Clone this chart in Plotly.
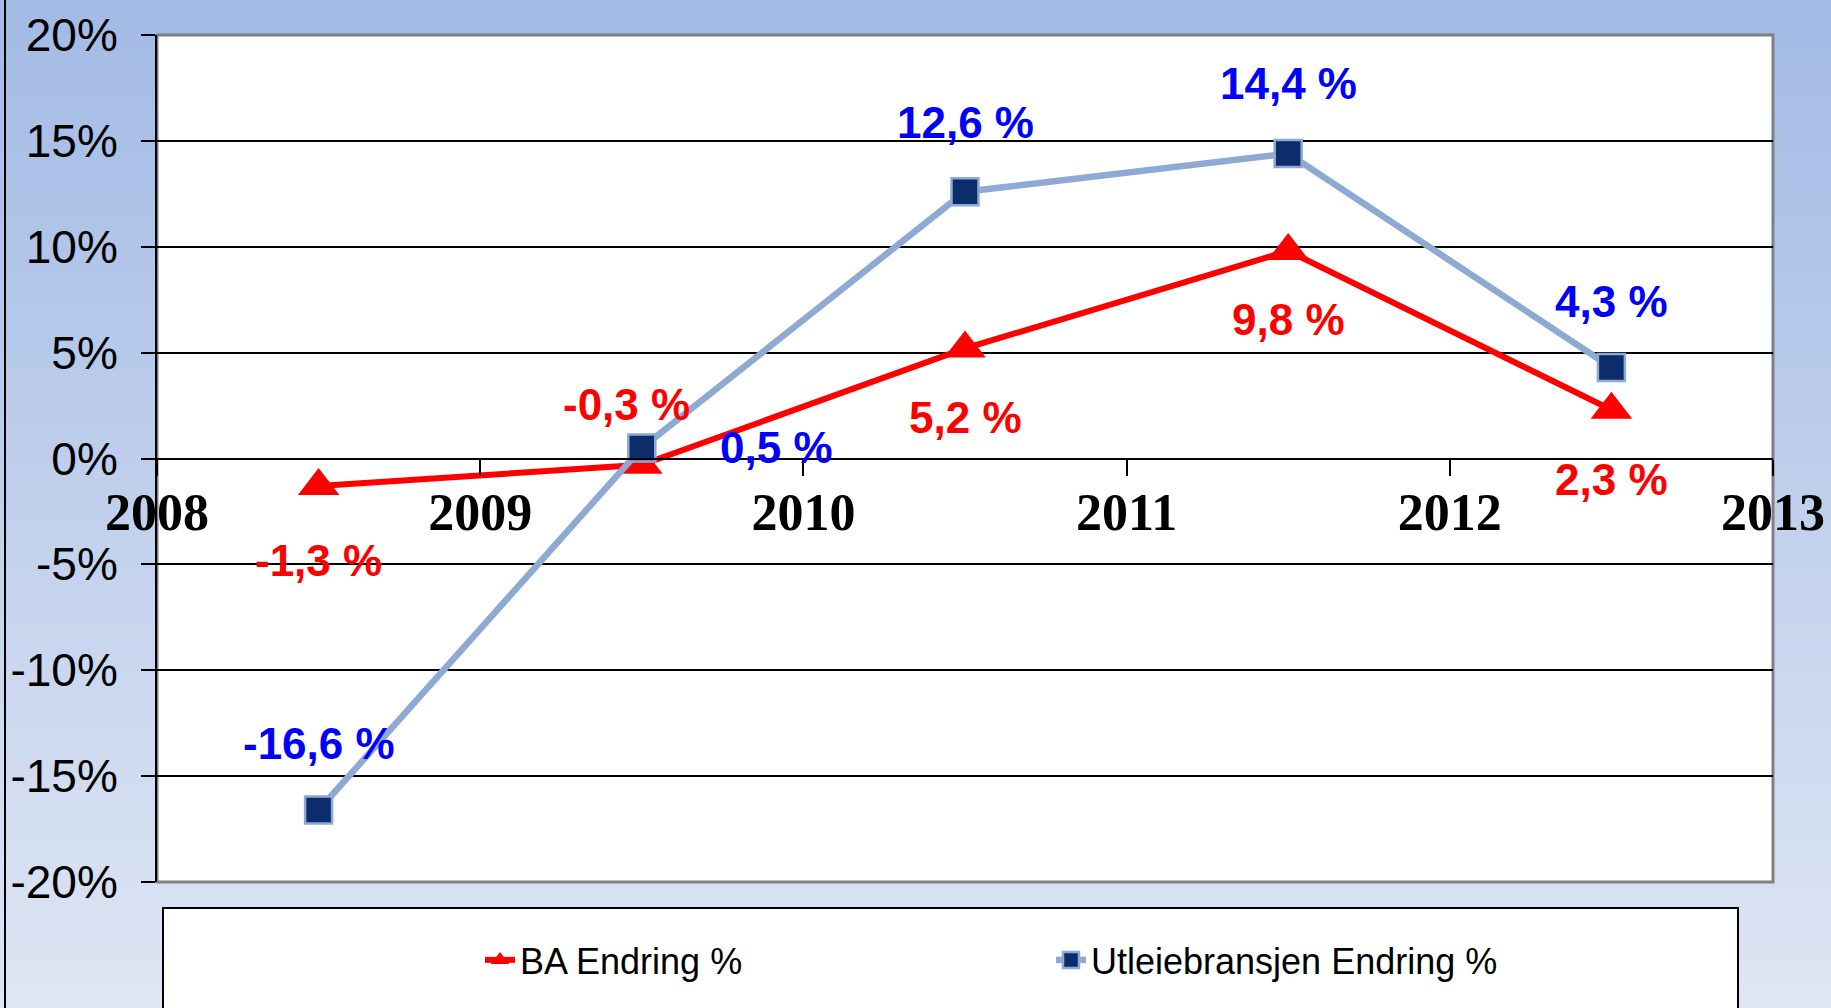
import plotly.graph_objects as go

# ---------------- data ----------------
years = [2008.5, 2009.5, 2010.5, 2011.5, 2012.5]
ba_values = [-1.3, -0.3, 5.2, 9.8, 2.3]
utleie_values = [-16.6, 0.5, 12.6, 14.4, 4.3]
ba_labels = ["-1,3 %", "-0,3 %", "5,2 %", "9,8 %", "2,3 %"]
utleie_labels = ["-16,6 %", "0,5 %", "12,6 %", "14,4 %", "4,3 %"]
series_names = ["BA Endring %", "Utleiebransjen Endring %"]
x_tick_vals = [2008, 2009, 2010, 2011, 2012, 2013]
x_tick_text = ["2008", "2009", "2010", "2011", "2012", "2013"]
y_tick_vals = [-20, -15, -10, -5, 0, 5, 10, 15, 20]
y_tick_text = ["-20%", "-15%", "-10%", "-5%", "0%", "5%", "10%", "15%", "20%"]

# ---------------- styling ----------------
W, H = 1831, 1008
ML, MR, MT, MB = 157, 58, 35, 126
PW, PH = W - ML - MR, H - MT - MB

ba_offsets = [(0, -74), (-15, 60), (0, -69), (0, -69), (0, -70)]
ut_offsets = [(0, 67), (135, 0), (0, 69), (0, 70), (0, 66)]

SANS = "Liberation Sans Narrow, Arial Narrow, Liberation Sans, Arial, sans-serif"
SERIF = "Liberation Serif, Times New Roman, serif"
RED = "#FF0000"
BLUE_TXT = "#0000FF"
LIGHT = "#8EA9D4"
NAVY = "#0B2D6B"


def px_x(px):
    return (px - ML) / PW


def px_y(py):
    return (H - MB - py) / PH


fig = go.Figure()

fig.add_trace(go.Scatter(
    x=years, y=ba_values, name=series_names[0], mode="lines+markers",
    line=dict(color=RED, width=6),
    marker=dict(symbol="triangle-up", size=36, color=RED),
    cliponaxis=False,
))
fig.add_trace(go.Scatter(
    x=years, y=utleie_values, name=series_names[1], mode="lines+markers",
    line=dict(color=LIGHT, width=6.5),
    marker=dict(symbol="square", size=27, color=NAVY, line=dict(color=LIGHT, width=2.5)),
    cliponaxis=False,
))

annotations = []
for xv, yv, t, (dx, dy) in zip(years, ba_values, ba_labels, ba_offsets):
    annotations.append(dict(x=xv, y=yv, xref="x", yref="y", text=t, showarrow=False,
                            xshift=dx, yshift=dy,
                            font=dict(family=SANS, size=44, color=RED, weight="bold")))
for xv, yv, t, (dx, dy) in zip(years, utleie_values, utleie_labels, ut_offsets):
    annotations.append(dict(x=xv, y=yv, xref="x", yref="y", text=t, showarrow=False,
                            xshift=dx, yshift=dy,
                            font=dict(family=SANS, size=44, color=BLUE_TXT, weight="bold")))

shapes = []
# gradient background bands
top_c = (163, 186, 229)
bot_c = (222, 230, 244)
N = 60
for i in range(N):
    y0p = H * i / N
    y1p = H * (i + 1) / N + 1
    f = (i + 0.5) / N
    c = tuple(int(round(top_c[k] + (bot_c[k] - top_c[k]) * f)) for k in range(3))
    shapes.append(dict(type="rect", xref="paper", yref="paper", layer="below",
                       x0=px_x(0), x1=px_x(W), y0=px_y(y1p), y1=px_y(y0p),
                       fillcolor="rgb(%d,%d,%d)" % c, line=dict(width=0)))
# left black border of the picture
shapes.append(dict(type="line", xref="paper", yref="paper", layer="below",
                   x0=px_x(5), x1=px_x(5), y0=px_y(H), y1=px_y(0),
                   line=dict(color="black", width=2)))
# plot area white with grey frame
shapes.append(dict(type="rect", xref="paper", yref="paper", layer="below",
                   x0=0, x1=1, y0=0, y1=1, fillcolor="white",
                   line=dict(color="#808080", width=3)))
# legend box
shapes.append(dict(type="rect", xref="paper", yref="paper", layer="below",
                   x0=px_x(163), x1=px_x(1738), y0=px_y(H + 10), y1=px_y(908),
                   fillcolor="white", line=dict(color="black", width=2)))

fig.update_layout(
    width=W, height=H,
    margin=dict(l=ML, r=MR, t=MT, b=MB, pad=0, autoexpand=False),
    paper_bgcolor="rgb(190,205,235)",
    plot_bgcolor="rgba(0,0,0,0)",
    showlegend=True,
    legend=dict(orientation="h", x=px_x(480), y=px_y(960), xanchor="left", yanchor="middle",
                bgcolor="rgba(0,0,0,0)", borderwidth=0,
                font=dict(family=SANS, size=36, color="black"),
                entrywidth=526, entrywidthmode="pixels", itemwidth=30),
    annotations=annotations,
    shapes=shapes,
    xaxis=dict(range=[2008, 2013], anchor="free", position=0.5, automargin=False,
               tickvals=x_tick_vals, ticktext=x_tick_text,
               tickfont=dict(family=SERIF, size=52, color="black", weight="bold"),
               ticks="outside", ticklen=16, tickwidth=1.5, tickcolor="black",
               ticklabelstandoff=-8,
               showline=True, linecolor="black", linewidth=2,
               showgrid=False, zeroline=False),
    yaxis=dict(range=[-20, 20], tickvals=y_tick_vals, ticktext=y_tick_text, automargin=False,
               tickfont=dict(family=SANS, size=46, color="black"),
               ticks="outside", ticklen=14, tickwidth=2, tickcolor="black",
               ticklabelstandoff=14,
               showgrid=True, gridcolor="black", gridwidth=2,
               showline=True, linecolor="black", linewidth=2,
               zeroline=False),
)

fig.write_html("out.html", config={"displayModeBar": False},
               post_script="document.body.style.margin='0';")
